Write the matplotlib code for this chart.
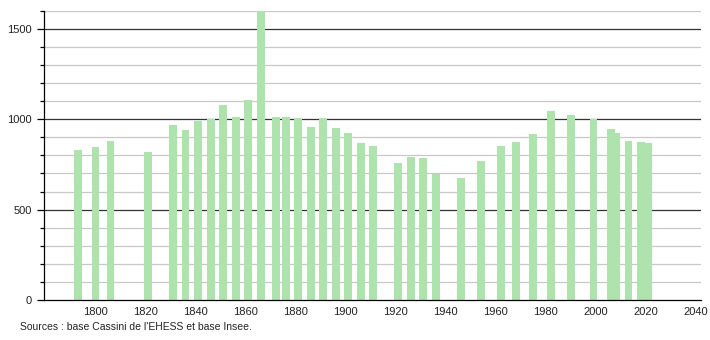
import matplotlib
matplotlib.use('Agg')
import matplotlib.pyplot as plt
import numpy as np

plt.rcParams['font.family'] = ['Liberation Sans', 'DejaVu Sans']

# census years and population
years = [1793, 1800, 1806, 1821, 1831, 1836, 1841, 1846, 1851, 1856,
         1861, 1866, 1872, 1876, 1881, 1886, 1891, 1896, 1901, 1906,
         1911, 1921, 1926, 1931, 1936, 1946, 1954, 1962, 1968, 1975,
         1982, 1990, 1999, 2006, 2008, 2013, 2018, 2019, 2020, 2021]
population = [830, 847, 878, 819, 968, 941, 991, 1002, 1077, 1013,
              1107, 1650, 1013, 1013, 1007, 957, 1007, 952, 924, 869,
              852, 758, 791, 786, 696, 673, 769, 852, 874, 919,
              1046, 1024, 1002, 945, 926, 880, 874, 871, 868, 866]

xticks = list(range(1800, 2041, 20))
source = "Sources : base Cassini de l'EHESS et base Insee."

fig = plt.figure(figsize=(7.1, 3.4), dpi=100)
W, H = 710, 340
ax = fig.add_axes([44 / W, 40 / H, (701 - 44) / W, (300 - 10.7) / H])

# grid: light every 100, dark every 500
for v in range(100, 1601, 100):
    if v % 500 == 0:
        ax.axhline(v, color='#333333', lw=0.9, zorder=1)
    else:
        ax.axhline(v, color='#c8c8c8', lw=0.9, zorder=1)

ax.bar(years, population, width=3.1, color='#aee3ae', zorder=2)

ax.set_xlim(1779.4, 2042.0)
ax.set_ylim(0, 1600)

ax.set_xticks(xticks)
ax.set_xticklabels([str(x) for x in xticks], fontsize=8, color='#222222')
ax.tick_params(axis='x', length=0, pad=5)

ax.set_yticks([0, 500, 1000, 1500])
ax.set_yticklabels(['0', '500', '1000', '1500'], fontsize=8, color='#222222')
ax.set_yticks(range(0, 1601, 100), minor=True)
ax.tick_params(axis='y', which='major', length=5, width=0.9, pad=4)
ax.tick_params(axis='y', which='minor', length=3, width=0.9)

for s in ['top', 'right']:
    ax.spines[s].set_visible(False)
ax.spines['left'].set_linewidth(0.9)
ax.spines['bottom'].set_linewidth(0.9)
ax.spines['left'].set_zorder(3)
ax.spines['bottom'].set_zorder(3)

fig.text(20 / W, 1 - 327 / H, source, fontsize=7.5, color='#222222', va='center', ha='left')

fig.savefig('out.png', dpi=100)
